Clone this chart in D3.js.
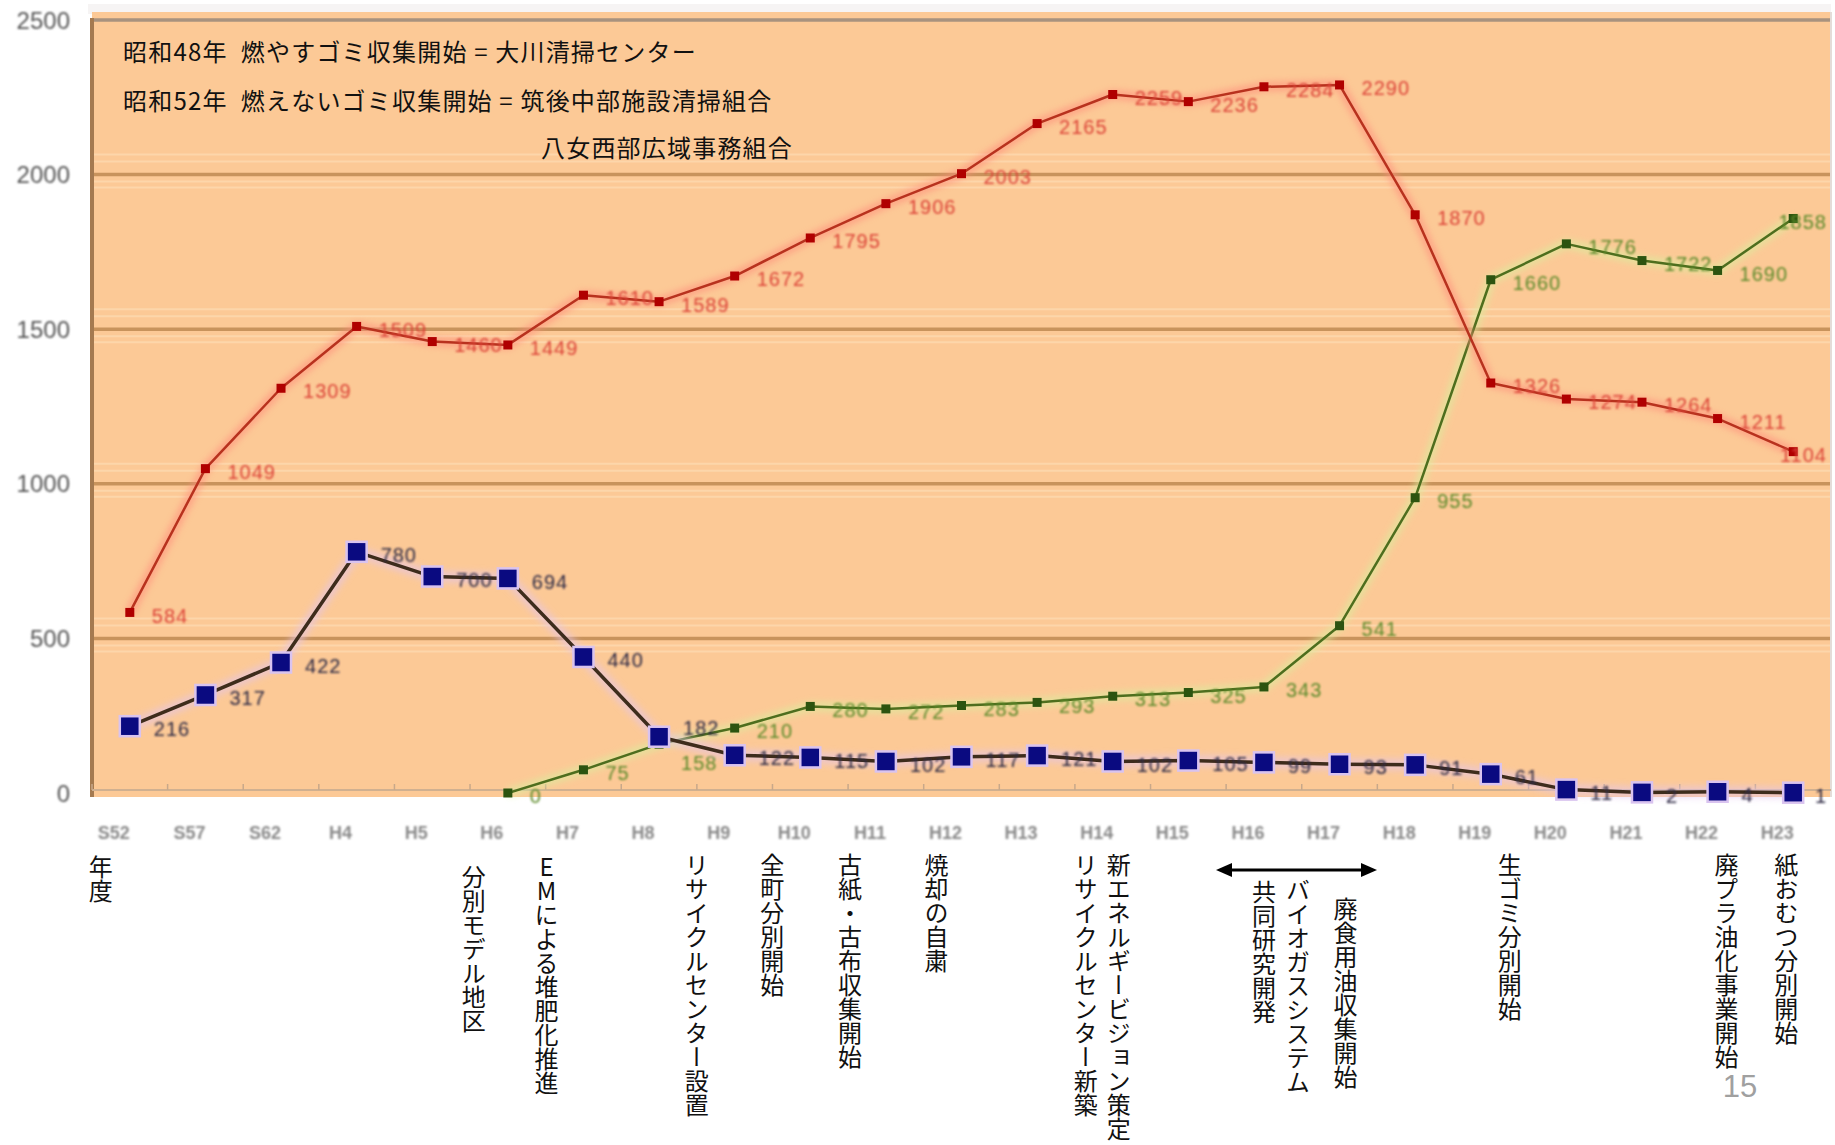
<!DOCTYPE html>
<html>
<head>
<meta charset="utf-8">
<script src="https://cdn.jsdelivr.net/npm/d3@7"></script>
<style>
  html, body { margin: 0; padding: 0; background: #ffffff; }
  svg { display: block; }
</style>
</head>
<body>
<svg id="chart" width="1835" height="1145"></svg>
<script>
// Fiscal years on the horizontal axis
const categories = ["S52","S57","S62","H4","H5","H6","H7","H8","H9","H10","H11","H12",
                    "H13","H14","H15","H16","H17","H18","H19","H20","H21","H22","H23"];

// Burnable waste (red)
const burnable = [584, 1049, 1309, 1509, 1460, 1449, 1610, 1589, 1672, 1795, 1906, 2003,
                  2165, 2259, 2236, 2284, 2290, 1870, 1326, 1274, 1264, 1211, 1104];

// Non-burnable waste (navy squares)
const nonBurnable = [216, 317, 422, 780, 700, 694, 440, 182, 122, 115, 102, 117,
                     121, 102, 105, 99, 93, 91, 61, 11, 2, 4, 1];

// Recycled / sorted resources (green), collected from H6 onward
const recycled = [null, null, null, null, null, 0, 75, 158, 210, 280, 272, 283,
                  293, 313, 325, 343, 541, 955, 1660, 1776, 1722, 1690, 1858];

const yTicks = [0, 500, 1000, 1500, 2000, 2500];

// Notes printed inside the plot area
const headerNotes = [
  "昭和48年  燃やすゴミ収集開始 = 大川清掃センター",
  "昭和52年  燃えないゴミ収集開始 = 筑後中部施設清掃組合",
  "八女西部広域事務組合"
];

// Vertical event notes under the axis: [anchor year, text]
const eventNotes = [
  ["S52", "年度"],
  ["H6",  "分別モデル地区"],
  ["H7",  "EMによる堆肥化推進"],
  ["H9",  "リサイクルセンター設置"],
  ["H10", "全町分別開始"],
  ["H11", "古紙・古布収集開始"],
  ["H12", "焼却の自粛"],
  ["H14", "新エネルギービジョン策定"],
  ["H14", "リサイクルセンター新築"],
  ["H16", "共同研究開発"],
  ["H16", "バイオガスシステム"],
  ["H17", "廃食用油収集開始"],
  ["H19", "生ゴミ分別開始"],
  ["H22", "廃プラ油化事業開始"],
  ["H23", "紙おむつ分別開始"]
];
const pageNumber = "15";

// ---------------------------------------------------------------------------
const svg = d3.select("#chart");
const W = 1835, H = 1145;
const plot = { left: 92, right: 1831, top: 20, bottom: 793 };

const x = d3.scaleBand().domain(categories).range([plot.left, plot.right]).padding(0);
const cx = c => x(c) + x.bandwidth() / 2;
const y = d3.scaleLinear().domain([0, 2500]).range([plot.bottom, plot.top]);

const defs = svg.append("defs");
defs.append("filter").attr("id", "soft").attr("x", "-20%").attr("y", "-40%")
  .attr("width", "140%").attr("height", "180%")
  .append("feGaussianBlur").attr("stdDeviation", 0.9);
defs.append("filter").attr("id", "halo").attr("x", "-10%").attr("y", "-30%")
  .attr("width", "120%").attr("height", "160%")
  .append("feGaussianBlur").attr("stdDeviation", 3);

// Background
svg.append("rect").attr("width", W).attr("height", H).attr("fill", "#ffffff");
svg.append("rect").attr("x", 88).attr("y", 4).attr("width", plot.right - 88).attr("height", 10)
  .attr("fill", "#f6f4f4");
svg.append("rect")
  .attr("x", plot.left).attr("y", 12)
  .attr("width", plot.right - plot.left).attr("height", plot.bottom + 4 - 12)
  .attr("fill", "#fcc996");

// Horizontal grid lines with the faint light bands that go with them
const grid = svg.append("g");
yTicks.filter(t => t > 0 && t < 2500).forEach(t => {
  const gy = y(t);
  [-20, -13, 7, 13].forEach(o => {
    grid.append("line").attr("x1", plot.left).attr("x2", plot.right)
      .attr("y1", gy + o).attr("y2", gy + o)
      .attr("stroke", "#fdd6aa").attr("stroke-width", 2);
  });
  grid.append("line").attr("x1", plot.left).attr("x2", plot.right)
    .attr("y1", gy).attr("y2", gy)
    .attr("stroke", "#c8935c").attr("stroke-width", 3.5);
});
// Top frame line
grid.append("line").attr("x1", plot.left).attr("x2", plot.right)
  .attr("y1", y(2500)).attr("y2", y(2500))
  .attr("stroke", "#a8927e").attr("stroke-width", 3.5);
// Left frame line
grid.append("line").attr("x1", plot.left).attr("x2", plot.left)
  .attr("y1", y(2500) - 2).attr("y2", plot.bottom + 4)
  .attr("stroke", "#a57a50").attr("stroke-width", 4);
// Right frame line
grid.append("line").attr("x1", plot.right).attr("x2", plot.right)
  .attr("y1", 12).attr("y2", plot.bottom + 4)
  .attr("stroke", "#e4dcd8").attr("stroke-width", 2);

// Bottom axis with small ticks at band boundaries
const xAxis = svg.append("g");
xAxis.append("line").attr("x1", plot.left).attr("x2", plot.right)
  .attr("y1", plot.bottom - 3).attr("y2", plot.bottom - 3)
  .attr("stroke", "#d0b090").attr("stroke-width", 2);
categories.forEach(c => {
  xAxis.append("line").attr("x1", x(c)).attr("x2", x(c))
    .attr("y1", plot.bottom - 9).attr("y2", plot.bottom - 3)
    .attr("stroke", "#c8a88a").attr("stroke-width", 1.5);
});
xAxis.selectAll("text.tick").data(categories).join("text")
  .attr("class", "tick")
  .attr("x", d => cx(d) - 16)
  .attr("y", 839)
  .attr("text-anchor", "middle")
  .attr("font-family", "'Liberation Sans', Arial, sans-serif")
  .attr("font-size", 18).attr("font-weight", "bold")
  .attr("fill", "#8a8a8a")
  .attr("filter", "url(#soft)")
  .text(d => d);

// Left value axis labels
svg.append("g").selectAll("text").data(yTicks).join("text")
  .attr("x", 70).attr("y", d => y(d))
  .attr("dy", "0.36em")
  .attr("text-anchor", "end")
  .attr("font-family", "'Liberation Sans', Arial, sans-serif")
  .attr("font-size", 24)
  .attr("fill", "#555555")
  .attr("filter", "url(#soft)")
  .text(d => d);

// Header notes (spaces kept as non-breaking so the double gap survives)
const noteFont = "'Noto Sans CJK JP', sans-serif";
const keepSpaces = s => s.replace(/ /g, "\u00a0");
const noteG = svg.append("g").attr("font-family", noteFont).attr("font-size", 24)
  .attr("letter-spacing", 1.2).attr("fill", "#111111");
noteG.append("text").attr("x", 123).attr("y", 61).text(keepSpaces(headerNotes[0]));
noteG.append("text").attr("x", 123).attr("y", 110).text(keepSpaces(headerNotes[1]));
noteG.append("text").attr("x", 541).attr("y", 157).text(keepSpaces(headerNotes[2]));

// Series drawing
function drawSeries(values, opt) {
  const pts = categories.map((c, i) => ({ c, v: values[i] })).filter(d => d.v !== null);
  const line = d3.line().x(d => cx(d.c)).y(d => y(d.v));
  const g = svg.append("g");
  g.append("path").attr("d", line(pts)).attr("fill", "none")
    .attr("stroke", opt.halo).attr("stroke-width", opt.haloWidth)
    .attr("opacity", 0.55).attr("filter", "url(#halo)");
  g.append("path").attr("d", line(pts)).attr("fill", "none")
    .attr("stroke", opt.line).attr("stroke-width", opt.lineWidth)
    .attr("stroke-linejoin", "round");
  g.selectAll("rect.mk").data(pts).join("rect")
    .attr("class", "mk")
    .attr("x", d => cx(d.c) - opt.size / 2)
    .attr("y", d => y(d.v) - opt.size / 2)
    .attr("width", opt.size).attr("height", opt.size)
    .attr("fill", opt.marker)
    .attr("stroke", opt.markerStroke || "none")
    .attr("stroke-width", opt.markerStrokeWidth || 0);
  g.selectAll("text.lb").data(pts).join("text")
    .attr("class", "lb")
    .attr("x", d => cx(d.c) + opt.labelDx)
    .attr("y", d => y(d.v) + 3 + ((opt.labelDy && opt.labelDy[d.c]) || 0))
    .attr("dy", "0.36em")
    .attr("font-family", "'Liberation Sans', Arial, sans-serif")
    .attr("font-size", 20)
    .attr("letter-spacing", 1)
    .attr("fill", opt.label)
    .attr("filter", "url(#soft)")
    .text(d => d.v)
    .each(function () {
      // keep labels near the right edge inside the plot frame
      const w = this.getComputedTextLength();
      const lx = +this.getAttribute("x");
      if (lx + w > plot.right - 4) this.setAttribute("x", plot.right - 4 - w);
    });
}

drawSeries(recycled, {
  line: "#4e6e1e", lineWidth: 2.5, halo: "#d6f29e", haloWidth: 10,
  marker: "#2c5410", size: 9, label: "#5c8a2a", labelDx: 22,
  labelDy: { H8: 16 }
});
drawSeries(burnable, {
  line: "#b8321e", lineWidth: 2.5, halo: "#ff8a7a", haloWidth: 10,
  marker: "#b00000", size: 9, label: "#dc4438", labelDx: 22
});
drawSeries(nonBurnable, {
  line: "#3e2c1c", lineWidth: 3.5, halo: "#e2c4ee", haloWidth: 12,
  marker: "#0a0a80", size: 20, markerStroke: "#d9c3ef", markerStrokeWidth: 2.5,
  label: "#2e2a44", labelDx: 24, labelDy: { H8: -12 }
});

// Vertical event notes under the axis
const eventPos = {
  "年度": [-29, 855], "分別モデル地区": [-34, 865], "EMによる堆肥化推進": [-37, 855],
  "リサイクルセンター設置": [-38, 853], "全町分別開始": [-38, 853],
  "古紙・古布収集開始": [-36, 853], "焼却の自粛": [-25, 853],
  "新エネルギービジョン策定": [6, 853], "リサイクルセンター新築": [-27, 853],
  "共同研究開発": [0, 880], "バイオガスシステム": [34, 878], "廃食用油収集開始": [6, 897],
  "生ゴミ分別開始": [19, 853], "廃プラ油化事業開始": [9, 853], "紙おむつ分別開始": [-7, 853]
};
const evG = svg.append("g").attr("font-family", noteFont).attr("font-size", 24).attr("fill", "#111111");
eventNotes.forEach(([c, t]) => {
  const [dx, top] = eventPos[t];
  evG.append("text")
    .attr("x", cx(c) + dx).attr("y", top)
    .style("writing-mode", "vertical-rl")
    .style("text-orientation", "upright")
    .text(t);
});

// Double-headed arrow spanning the biogas joint research period
const ay = 870, ax1 = 1216, ax2 = 1377;
const arrow = svg.append("g").attr("fill", "#000").attr("stroke", "#000");
arrow.append("line").attr("x1", ax1 + 10).attr("x2", ax2 - 10).attr("y1", ay).attr("y2", ay)
  .attr("stroke-width", 3);
arrow.append("path").attr("stroke", "none")
  .attr("d", `M${ax1},${ay} L${ax1 + 16},${ay - 7} L${ax1 + 16},${ay + 7} Z`);
arrow.append("path").attr("stroke", "none")
  .attr("d", `M${ax2},${ay} L${ax2 - 16},${ay - 7} L${ax2 - 16},${ay + 7} Z`);

// Page number
svg.append("text").attr("x", 1740).attr("y", 1097).attr("text-anchor", "middle")
  .attr("font-family", "'Liberation Sans', Arial, sans-serif")
  .attr("font-size", 31).attr("fill", "#a0a0a0")
  .text(pageNumber);
</script>
</body>
</html>
